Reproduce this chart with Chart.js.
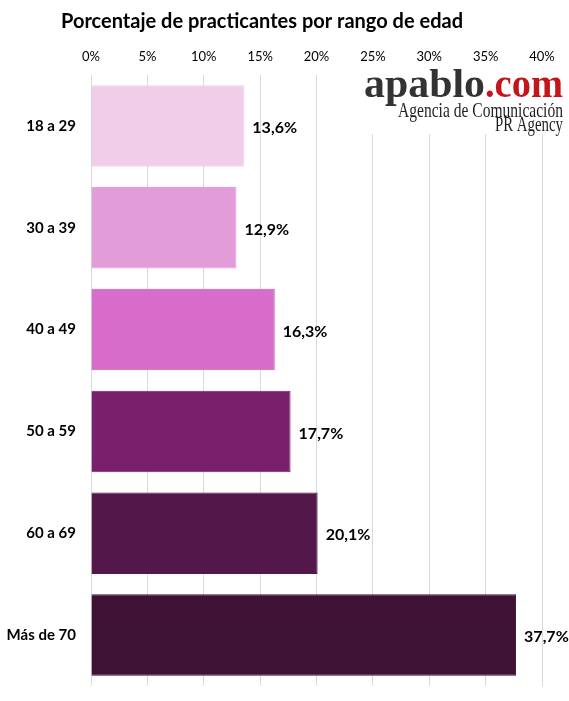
<!DOCTYPE html>
<html>
<head>
<meta charset="utf-8">
<script src="https://cdn.jsdelivr.net/npm/chart.js@4"></script>
<style>
  html, body { margin: 0; padding: 0; background: #fff; }
  #wrap { width: 569px; height: 701px; position: relative; }
</style>
</head>
<body>
<div id="wrap"><canvas id="chart"></canvas></div>
<script>
// data
const ageGroups = ["18 a 29", "30 a 39", "40 a 49", "50 a 59", "60 a 69", "Más de 70"];
const percentValues = [13.6, 12.9, 16.3, 17.7, 20.1, 37.7];
const barColors = ["#f1cdea", "#e39cda", "#d86cca", "#7a1f6c", "#53174a", "#3e1235"];
const barBorders = ["#f1cdea", "#e39cda", "#c25cb5", "#7a1f6c", "#53174a", "#3e1235"];
const titleText = "Porcentaje de practicantes por rango de edad";

const FONT = "Lato, 'Open Sans', sans-serif";

// draw text squeezed/stretched to an exact width
function fitText(ctx, txt, x, y, w) {
  let tw = ctx.measureText(txt).width;
  ctx.save();
  ctx.translate(x, y);
  ctx.scale(w / tw, 1);
  ctx.fillText(txt, 0, 0);
  ctx.restore();
}

// title, value labels and the agency logo
const extras = {
  id: "extras",
  afterDatasetsDraw(chart) {
    const { ctx, scales: { x, y } } = chart;
    ctx.save();

    // value labels next to each bar
    ctx.font = "bold 16px " + FONT;
    ctx.fillStyle = "#000";
    ctx.textAlign = "left";
    ctx.textBaseline = "middle";
    for (let i = 0; i < percentValues.length; i++) {
      let txt = percentValues[i].toFixed(1).replace(".", ",") + "%";
      ctx.fillText(txt, x.getPixelForValue(percentValues[i]) + 8, y.getPixelForValue(i) + 2);
    }

    // title
    ctx.font = "bold 20px " + FONT;
    ctx.textAlign = "center";
    ctx.fillText(titleText, 262, 22);

    // logo box
    ctx.fillStyle = "#fff";
    ctx.fillRect(360, 72, 209, 62);
    ctx.textBaseline = "alphabetic";
    ctx.textAlign = "left";
    ctx.font = "bold 39px 'Liberation Serif', serif";
    ctx.fillStyle = "#333";
    fitText(ctx, "apablo", 364, 97, 121);
    ctx.fillStyle = "#c3161c";
    fitText(ctx, ".com", 485, 97, 78);
    ctx.fillStyle = "#1e1e1e";
    ctx.font = "21px 'Liberation Serif', serif";
    fitText(ctx, "Agencia de Comunicación", 398, 117, 165);
    fitText(ctx, "PR Agency", 495, 131, 68);

    ctx.restore();
  }
};

const config = {
  type: "bar",
  data: {
    labels: ageGroups,
    datasets: [
      {
        data: percentValues,
        backgroundColor: barColors,
        borderColor: barBorders,
        borderWidth: 1,
        barPercentage: 0.8,
        categoryPercentage: 1.0,
      },
    ],
  },
  options: {
    indexAxis: "y",
    responsive: false,
    animation: false,
    layout: { padding: { top: 40, left: 0, right: 27, bottom: 15 } },
    plugins: {
      legend: { display: false },
      title: { display: false },
      tooltip: { enabled: false },
    },
    scales: {
      x: {
        position: "top",
        min: 0,
        max: 40,
        ticks: {
          stepSize: 5,
          padding: 10,
          color: "#000",
          font: { family: FONT, size: 13 },
          callback: (v) => v + "%",
        },
        grid: { color: "#d9d9d9", drawTicks: false },
        border: { display: false },
        afterFit: (scale) => { scale.height = 35; },
      },
      y: {
        ticks: {
          padding: 0,
          color: "#000",
          font: { family: FONT, size: 15, weight: "bold" },
        },
        // invisible tick marks push the labels away from the bars
        grid: { display: true, drawOnChartArea: false, drawTicks: true, tickLength: 15, tickColor: "rgba(0,0,0,0)" },
        border: { display: false },
        afterFit: (scale) => { scale.width = 91; },
      },
    },
  },
  plugins: [extras],
};

const canvas = document.getElementById("chart");
canvas.width = 569;
canvas.height = 701;
const myChart = new Chart(canvas, config);
</script>
</body>
</html>
